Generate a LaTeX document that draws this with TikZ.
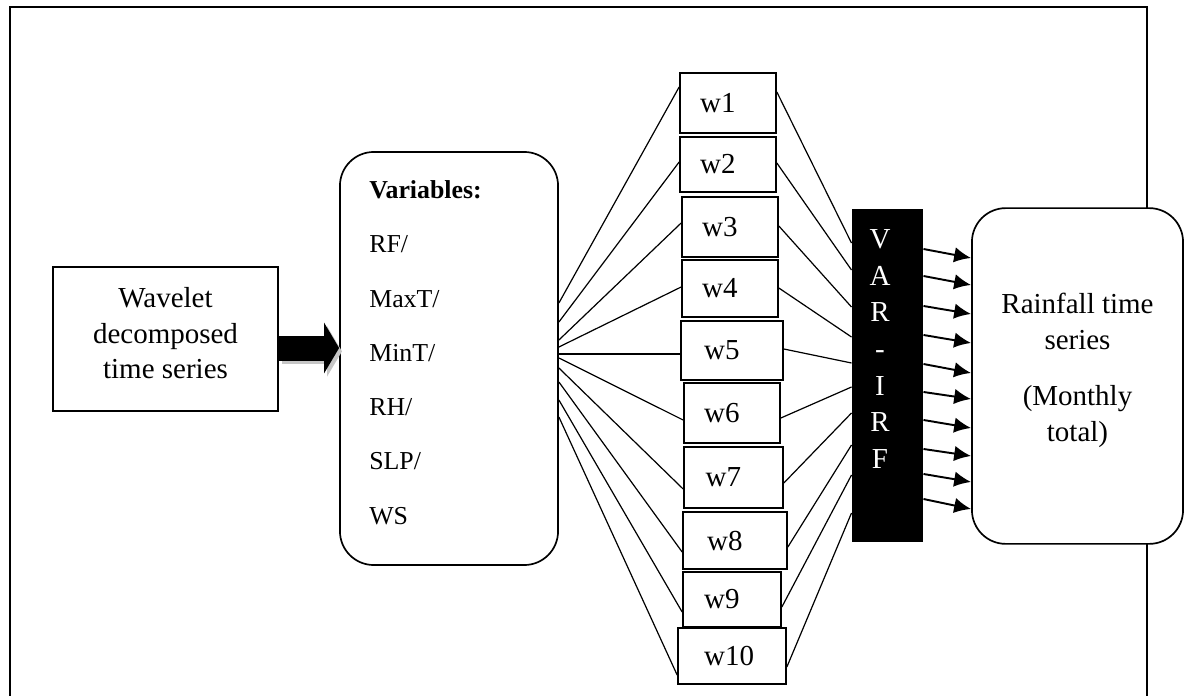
\documentclass[tikz,border=0pt]{standalone}
\usepackage{fontspec}
\setmainfont{Liberation Serif}
\usepackage{tikz}
\usetikzlibrary{positioning, arrows.meta, calc}

\begin{document}
\begin{tikzpicture}[
    x=0.414pt, y=-0.414pt,
    font=\fontsize{12}{14.7}\selectfont,
    plainbox/.style={
        draw,
        line width=0.7pt,
        align=center,
        inner sep=0pt
    },
    roundbox/.style={
        draw,
        line width=0.7pt,
        rounded corners=14pt,
        fill=white,
        inner sep=0pt
    },
    wbox/.style 2 args={
        draw,
        line width=0.7pt,
        minimum width=#1*0.414pt,
        minimum height=#2*0.414pt,
        text width=23pt,
        align=left,
        inner sep=0pt
    },
    fan/.style={line width=0.5pt},
    res/.style={-{Latex[length=7pt, width=6.4pt]}, line width=0.8pt},
    bigarr/.style={-{Triangle[length=6.2pt, width=20.7pt]}, line width=10.35pt}
]
\useasboundingbox (0,0) rectangle (1184,696);

% outer frame (open at the bottom)
\draw[line width=1pt] (10,700) -- (10,7) -- (1147,7) -- (1147,700);

\node[plainbox, minimum width=93.2pt, minimum height=59.6pt, text depth=5pt] (wavelet) at (165.5,339) {Wavelet\\decomposed\\time series};

\node[roundbox, minimum width=90.3pt, minimum height=171pt, text depth=139.7pt,
      align=left, text width=66pt, font=\fontsize{10.7}{22.45}\selectfont] (vars) at (449,358.5)
      {\textbf{Variables:}\\RF/\\MaxT/\\MinT/\\RH/\\SLP/\\WS};

\node[wbox={96}{60}]  (w1)  at (728,103)   {w1};
\node[wbox={96}{55}]  (w2)  at (728,164.5) {w2};
\node[wbox={96}{60}]  (w3)  at (730,227)   {w3};
\node[wbox={96}{57}]  (w4)  at (730,288.5) {w4};
\node[wbox={102}{59}] (w5)  at (732,350.5) {w5};
\node[wbox={96}{60}]  (w6)  at (732,413)   {w6};
\node[wbox={99}{61}]  (w7)  at (733.5,477.5) {w7};
\node[wbox={104}{57}] (w8)  at (735,540.5) {w8};
\node[wbox={98}{55}]  (w9)  at (732,599.5) {w9};
\node[wbox={108}{56}] (w10) at (732,656)   {w10};

\node[fill=black, minimum width=29.4pt, minimum height=137.9pt, inner sep=0pt] (irf) at (887.5,375.5) {};
\node[text=white, align=center, font=\fontsize{12}{15.2}\selectfont] (irftext) at (880,349) {V\\A\\R\\-\\I\\R\\F};

\node[roundbox, minimum width=87.4pt, minimum height=139pt, align=center, text depth=7.4pt] (rain) at (1077.5,376)
      {Rainfall time\\series\\[8.7pt](Monthly\\total)};

% block arrow with its shadow
\draw[bigarr, gray!45, transform canvas={shift={(1.2pt,-1.4pt)}}] (wavelet.east |- 0,348) -- (vars.west |- 0,348);
\draw[bigarr] (wavelet.east |- 0,348) -- (vars.west |- 0,348);

% variables to wavelet components
\draw[fan] (vars.east |- 0,303) -- (w1.west |- 0,87);
\draw[fan] (vars.east |- 0,322) -- (w2.west |- 0,162);
\draw[fan] (vars.east |- 0,340) -- (w3.west |- 0,223);
\draw[fan] (vars.east |- 0,347) -- (w4.west |- 0,287);
\draw[fan] (vars.east |- 0,354) -- (w5.west |- 0,354);
\draw[fan] (vars.east |- 0,358) -- (w6.west |- 0,420);
\draw[fan] (vars.east |- 0,368) -- (w7.west |- 0,489);
\draw[fan] (vars.east |- 0,382) -- (w8.west |- 0,552);
\draw[fan] (vars.east |- 0,400) -- (w9.west |- 0,612);
\draw[fan] (vars.east |- 0,417) -- (w10.west |- 0,675);

% components to VAR-IRF
\draw[fan] (w1.east |- 0,92)   -- (irf.west |- 0,243);
\draw[fan] (w2.east |- 0,163)  -- (irf.west |- 0,270);
\draw[fan] (w3.east |- 0,226)  -- (irf.west |- 0,307);
\draw[fan] (w4.east |- 0,288)  -- (irf.west |- 0,337);
\draw[fan] (w5.east |- 0,349)  -- (irf.west |- 0,363);
\draw[fan] (w6.east |- 0,418)  -- (irf.west |- 0,387);
\draw[fan] (w7.east |- 0,483)  -- (irf.west |- 0,413);
\draw[fan] (w8.east |- 0,547)  -- (irf.west |- 0,445);
\draw[fan] (w9.east |- 0,607)  -- (irf.west |- 0,475);
\draw[fan] (w10.east |- 0,667) -- (irf.west |- 0,513);

% VAR-IRF to rainfall
\draw[res] (irf.east |- 0,249) -- (rain.west |- 0,258);
\draw[res] (irf.east |- 0,276) -- (rain.west |- 0,285);
\draw[res] (irf.east |- 0,306) -- (rain.west |- 0,314);
\draw[res] (irf.east |- 0,335) -- (rain.west |- 0,343);
\draw[res] (irf.east |- 0,364) -- (rain.west |- 0,373);
\draw[res] (irf.east |- 0,392) -- (rain.west |- 0,399);
\draw[res] (irf.east |- 0,420) -- (rain.west |- 0,428);
\draw[res] (irf.east |- 0,449) -- (rain.west |- 0,456);
\draw[res] (irf.east |- 0,474) -- (rain.west |- 0,482);
\draw[res] (irf.east |- 0,499) -- (rain.west |- 0,509);

\end{tikzpicture}
\end{document}
